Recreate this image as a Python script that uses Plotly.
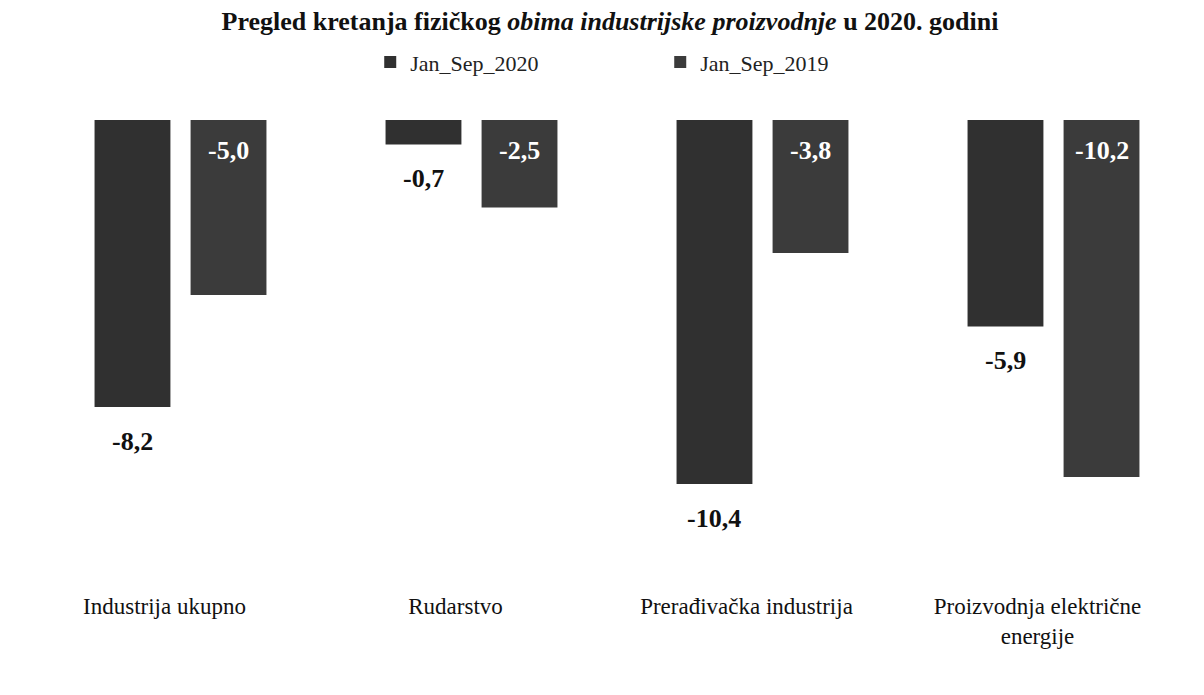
import plotly.graph_objects as go

categories = ["Industrija ukupno", "Rudarstvo", "Prerađivačka industrija",
              "Proizvodnja električne<br>energije"]
series_2020_name = "Jan_Sep_2020"
series_2019_name = "Jan_Sep_2019"
values_2020 = [-8.2, -0.7, -10.4, -5.9]
values_2019 = [-5.0, -2.5, -3.8, -10.2]
title_text = ("<b>Pregled kretanja fizičkog <i>obima industrijske proizvodnje</i> "
              "u 2020. godini</b>")

def fmt(v):
    return f"{v:.1f}".replace(".", ",")

serif = "Liberation Serif, Times New Roman, serif"

W, H = 1204, 695
ML, MR, MT, MB = 27, 13, 92, 113
BARGAP, BARGROUPGAP = 0.34, 0.21
plot_w = W - ML - MR
slot = plot_w / len(categories) * (1 - BARGAP) / 2
half = slot / 2

fig = go.Figure()
fig.add_trace(go.Bar(
    x=categories, y=values_2020, name=series_2020_name,
    marker=dict(color="#303030", line=dict(width=0)),
))
fig.add_trace(go.Bar(
    x=categories, y=values_2019, name=series_2019_name,
    marker=dict(color="#3b3b3b", line=dict(width=0)),
))

annotations = []
for c, v in zip(categories, values_2020):
    annotations.append(dict(
        x=c, y=v, xref="x", yref="y", text=fmt(v), showarrow=False,
        xshift=-half, yshift=-18, yanchor="top", xanchor="center",
        font=dict(family=serif, size=26, color="#111111", weight="bold")))
for c, v in zip(categories, values_2019):
    annotations.append(dict(
        x=c, y=0, xref="x", yref="y", text=fmt(v), showarrow=False,
        xshift=half, yshift=-14, yanchor="top", xanchor="center",
        font=dict(family=serif, size=26, color="#ffffff", weight="bold")))

fig.update_layout(
    width=W, height=H,
    paper_bgcolor="white", plot_bgcolor="white",
    margin=dict(l=ML, r=MR, t=MT, b=MB),
    barmode="group", bargap=BARGAP, bargroupgap=BARGROUPGAP,
    title=dict(text=title_text, x=0.5, xanchor="center", y=0.982, yanchor="middle",
               font=dict(family=serif, size=26, color="#111111")),
    legend=dict(orientation="h", x=0.288, xanchor="left",
                yref="container", y=0.922, yanchor="middle",
                font=dict(family=serif, size=22, color="#222222"),
                entrywidth=245, entrywidthmode="pixels", bgcolor="rgba(0,0,0,0)"),
    showlegend=True,
    annotations=annotations,
    font=dict(family=serif, color="#111111"),
)
fig.update_xaxes(showline=False, showgrid=False, ticks="", zeroline=False,
                 tickfont=dict(family=serif, size=23, color="#111111"),
                 ticklabelshift=-16)
fig.update_yaxes(visible=False, range=[-13.43, 0.57], showgrid=False, zeroline=False)

fig.write_html("out.html")
